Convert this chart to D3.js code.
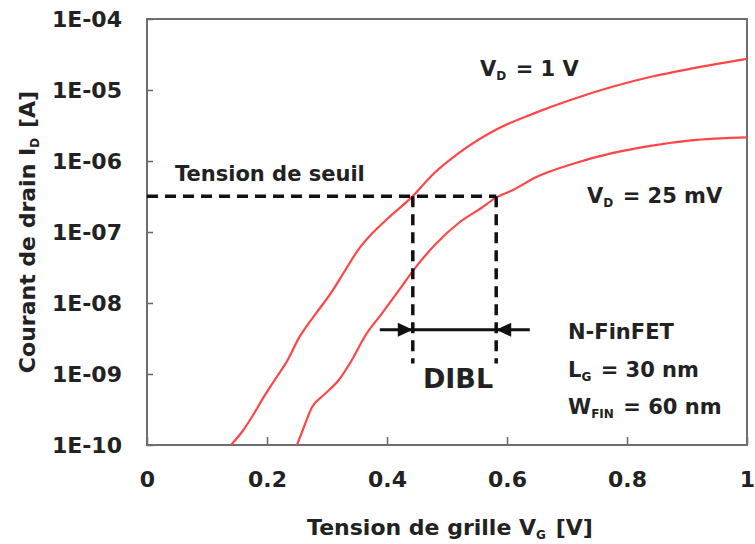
<!DOCTYPE html>
<meta charset="utf-8">
<script src="https://d3js.org/d3.v7.min.js"></script>
<style>
  body { margin: 0; background: #fff; }
  text { font-family: "DejaVu Sans", Verdana, sans-serif; font-weight: bold; fill: #222; }
</style>
<svg id="chart" width="755" height="544"></svg>
<script>

// data (VG in volts, ID in amperes)
var vgHigh = [0.14, 0.16, 0.175, 0.195, 0.217, 0.233, 0.253, 0.282, 0.307, 0.327, 0.352, 0.375, 0.403, 0.443, 0.475, 0.52, 0.583, 0.648, 0.713, 0.777, 0.842, 0.907, 1.0];
var idHigh = [1.0e-10, 1.6e-10, 2.5e-10, 4.8e-10, 9.3e-10, 1.5e-9, 3.2e-9, 7.2e-9, 1.4e-8, 2.6e-8, 5.6e-8, 9.5e-8, 1.6e-7, 3.2e-7, 6.3e-7, 1.3e-6, 2.8e-6, 4.8e-6, 7.6e-6, 1.12e-5, 1.55e-5, 2.0e-5, 2.75e-5];

var vgLow = [0.25, 0.26, 0.275, 0.295, 0.32, 0.34, 0.365, 0.392, 0.417, 0.448, 0.482, 0.52, 0.558, 0.583, 0.61, 0.648, 0.713, 0.777, 0.842, 0.907, 1.0];
var idLow = [1.0e-10, 1.66e-10, 3.4e-10, 5.1e-10, 8.3e-10, 1.5e-9, 3.6e-9, 7.2e-9, 1.4e-8, 3.2e-8, 6.9e-8, 1.35e-7, 2.2e-7, 3.1e-7, 3.9e-7, 5.9e-7, 9.3e-7, 1.3e-6, 1.65e-6, 1.95e-6, 2.15e-6];

var xTicks = [0, 0.2, 0.4, 0.6, 0.8, 1];
var xTickLabels = ["0", "0.2", "0.4", "0.6", "0.8", "1"];
var yTicks = [1e-10, 1e-9, 1e-8, 1e-7, 1e-6, 1e-5, 1e-4];
var yTickLabels = ["1E-10", "1E-09", "1E-08", "1E-07", "1E-06", "1E-05", "1E-04"];

// threshold / DIBL annotation
var vth = [0.443, 0.582];       // threshold voltage at VD = 1 V and VD = 25 mV
var ith = 3.2e-7;               // threshold current
var dibl = [0.388, 0.638];      // extent of the DIBL arrow
var diblI = 4.2e-9;             // current level of the arrow
var dashEnd = 1.4e-9;           // where the vertical dashes stop

var svg = d3.select("#chart");

var x = d3.scaleLinear().domain([0, 1]).range([147, 747]);
var y = d3.scaleLog().domain([1e-10, 1e-4]).range([445, 19]);

svg.append("clipPath").attr("id", "plotclip")
  .append("rect")
  .attr("x", x(0)).attr("y", y(1e-4))
  .attr("width", x(1) - x(0)).attr("height", y(1e-10) - y(1e-4));

// axes, ticks pointing inward
var xAxis = d3.axisBottom(x)
  .tickValues(xTicks)
  .tickSizeInner(-8).tickSizeOuter(0).tickPadding(34)
  .tickFormat(function(d, i) { return xTickLabels[i]; });

var yAxis = d3.axisLeft(y)
  .tickValues(yTicks)
  .tickSizeInner(-6).tickSizeOuter(0).tickPadding(25)
  .tickFormat(function(d, i) { return yTickLabels[i]; });

var gx = svg.append("g").attr("transform", "translate(0," + y(1e-10) + ")").call(xAxis);
var gy = svg.append("g").attr("transform", "translate(" + x(0) + ",0)").call(yAxis);

[gx, gy].forEach(function(g) {
  g.select(".domain").remove();
  g.selectAll(".tick line").attr("stroke", "#666").attr("stroke-width", 1.5);
  g.selectAll(".tick text")
    .style("font-family", "DejaVu Sans, Verdana, sans-serif")
    .style("font-weight", "bold")
    .style("font-size", "22px")
    .attr("fill", "#222");
});
gx.selectAll(".tick text").attr("dy", "0.35em");

// plot frame
svg.append("rect")
  .attr("x", x(0)).attr("y", y(1e-4))
  .attr("width", x(1) - x(0)).attr("height", y(1e-10) - y(1e-4))
  .attr("fill", "none")
  .attr("stroke", "#6e6e6e")
  .attr("stroke-width", 2);

// curves
var line = d3.line()
  .x(function(d) { return x(d[0]); })
  .y(function(d) { return y(d[1]); })
  .curve(d3.curveMonotoneX);

var curves = [d3.zip(vgHigh, idHigh), d3.zip(vgLow, idLow)];

svg.append("g").attr("clip-path", "url(#plotclip)")
  .selectAll("path")
  .data(curves)
  .enter()
  .append("path")
    .attr("d", line)
    .attr("fill", "none")
    .attr("stroke", "#ff4646")
    .attr("stroke-width", 2.2);

// dashed threshold lines
var dash = svg.append("g")
  .attr("stroke", "#111")
  .attr("stroke-width", 3.5)
  .attr("stroke-dasharray", "11,7");

dash.append("line")
  .attr("x1", x(0)).attr("x2", x(vth[1]))
  .attr("y1", y(ith)).attr("y2", y(ith));

dash.selectAll("line.v")
  .data(vth)
  .enter()
  .append("line")
    .attr("class", "v")
    .attr("x1", function(d) { return x(d); }).attr("x2", function(d) { return x(d); })
    .attr("y1", y(ith)).attr("y2", y(dashEnd));

// DIBL arrow
svg.append("line")
  .attr("x1", x(dibl[0])).attr("x2", x(dibl[1]))
  .attr("y1", y(diblI)).attr("y2", y(diblI))
  .attr("stroke", "#111")
  .attr("stroke-width", 3);

var ay = y(diblI);
svg.append("path")
  .attr("d", "M" + x(vth[0]) + "," + ay + "L" + (x(vth[0]) - 15) + "," + (ay - 7) + "L" + (x(vth[0]) - 15) + "," + (ay + 7) + "Z")
  .attr("fill", "#111");
svg.append("path")
  .attr("d", "M" + x(vth[1]) + "," + ay + "L" + (x(vth[1]) + 15) + "," + (ay - 7) + "L" + (x(vth[1]) + 15) + "," + (ay + 7) + "Z")
  .attr("fill", "#111");

// labels; a part given as [text] is a subscript
function label(px, py, parts, size, anchor) {
  var t = svg.append("text")
    .attr("x", px).attr("y", py)
    .style("font-size", (size || 21) + "px")
    .attr("text-anchor", anchor || "start");
  parts.forEach(function(p) {
    if (Array.isArray(p)) {
      t.append("tspan").attr("dy", 4).style("font-size", "12px").text(p[0]);
      t.append("tspan").attr("dy", -4).text("\u200a");
    } else {
      t.append("tspan").text(p);
    }
  });
  return t;
}

label(175, 181, ["Tension de seuil"]);
label(480, 76, ["V", ["D"], " = 1 V"]);
label(587, 203, ["V", ["D"], " = 25 mV"]);
label(568, 339, ["N-FinFET"]);
label(568, 377, ["L", ["G"], " = 30 nm"]);
label(568, 414, ["W", ["FIN"], " = 60 nm"]);
label(458, 388, ["DIBL"], 27, "middle");

// axis titles
label(450, 535, ["Tension de grille V", ["G"], " [V]"], 22, "middle");
label(0, 0, ["Courant de drain I", ["D"], " [A]"], 22, "middle")
  .attr("transform", "translate(35," + ((y(1e-4) + y(1e-10)) / 2) + ") rotate(-90)");

</script>
